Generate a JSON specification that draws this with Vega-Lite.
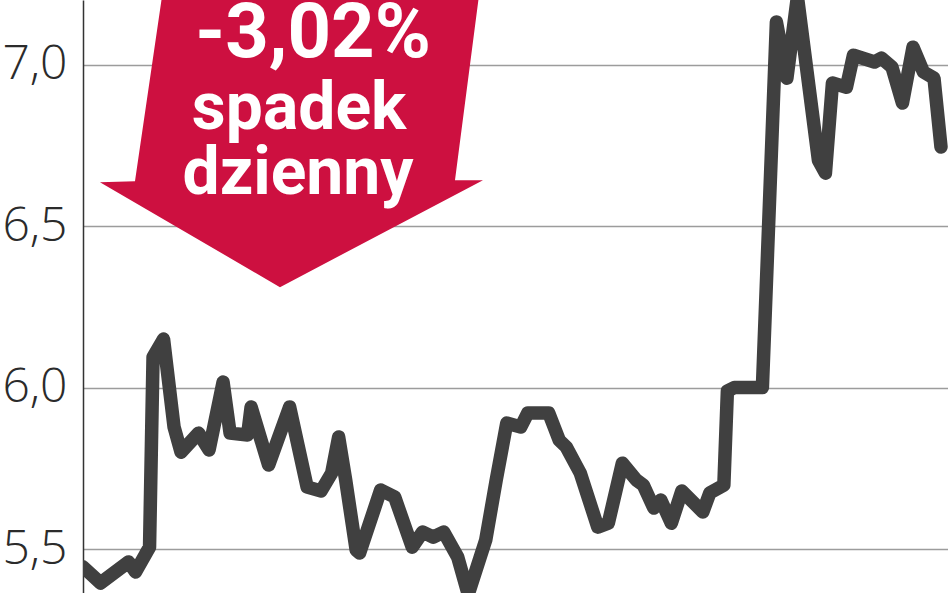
{
  "$schema": "https://vega.github.io/schema/vega-lite/v6.json",
  "width": 865,
  "height": 593,
  "autosize": "none",
  "padding": {"left": 83, "top": 0, "right": 0, "bottom": 0},
  "background": "white",
  "config": {"view": {"stroke": null}},
  "datasets": {
    "price": [
      {"t": 0, "value": 5.445}, {"t": 5, "value": 5.395}, {"t": 13, "value": 5.46}, {"t": 15, "value": 5.429},
      {"t": 19, "value": 5.506}, {"t": 20, "value": 6.094}, {"t": 23, "value": 6.15}, {"t": 26, "value": 5.878},
      {"t": 28, "value": 5.8}, {"t": 33, "value": 5.859}, {"t": 36, "value": 5.807}, {"t": 40, "value": 6.017},
      {"t": 42, "value": 5.859}, {"t": 47, "value": 5.853}, {"t": 48, "value": 5.94}, {"t": 53, "value": 5.76},
      {"t": 59, "value": 5.94}, {"t": 64, "value": 5.692}, {"t": 68, "value": 5.68}, {"t": 71, "value": 5.735},
      {"t": 73, "value": 5.847}, {"t": 75, "value": 5.714}, {"t": 78, "value": 5.497}, {"t": 79, "value": 5.488},
      {"t": 85, "value": 5.683}, {"t": 89, "value": 5.661}, {"t": 94, "value": 5.506}, {"t": 97, "value": 5.553},
      {"t": 100, "value": 5.537}, {"t": 103, "value": 5.553}, {"t": 107, "value": 5.475}, {"t": 110, "value": 5.36},
      {"t": 115, "value": 5.528}, {"t": 118, "value": 5.714}, {"t": 121, "value": 5.89}, {"t": 125, "value": 5.878},
      {"t": 127, "value": 5.921}, {"t": 133, "value": 5.921}, {"t": 136, "value": 5.837}, {"t": 138, "value": 5.816},
      {"t": 142, "value": 5.735}, {"t": 147, "value": 5.568}, {"t": 150, "value": 5.58}, {"t": 154, "value": 5.766},
      {"t": 158, "value": 5.714}, {"t": 160, "value": 5.698}, {"t": 163, "value": 5.627}, {"t": 165, "value": 5.652},
      {"t": 168, "value": 5.58}, {"t": 171, "value": 5.68}, {"t": 177, "value": 5.615}, {"t": 179, "value": 5.674},
      {"t": 183, "value": 5.698}, {"t": 184, "value": 5.989}, {"t": 186, "value": 6.0}, {"t": 194, "value": 6.0},
      {"t": 198, "value": 7.132}, {"t": 201, "value": 6.958}, {"t": 204, "value": 7.21}, {"t": 210, "value": 6.704},
      {"t": 212, "value": 6.664}, {"t": 214, "value": 6.943}, {"t": 218, "value": 6.93}, {"t": 220, "value": 7.029},
      {"t": 226, "value": 7.008}, {"t": 228, "value": 7.02}, {"t": 231, "value": 6.992}, {"t": 234, "value": 6.881},
      {"t": 237, "value": 7.054}, {"t": 240, "value": 6.977}, {"t": 243, "value": 6.958}, {"t": 245, "value": 6.745}
    ],
    "arrow": [{"t": 59.1, "value": 6.766}],
    "change": [{"t": 65.7, "value": 7.023, "label": "-3,02%"}],
    "caption": [
      {"t": 61.7, "value": 6.8, "label": "spadek"},
      {"t": 61.4, "value": 6.598, "label": "dzienny"}
    ]
  },
  "encoding": {
    "x": {"field": "t", "type": "quantitative", "axis": null,
          "scale": {"domain": [0, 247], "nice": false, "zero": false}},
    "y": {"field": "value", "type": "quantitative",
          "scale": {"domain": [5.364, 7.2], "nice": false, "zero": false},
          "axis": {
            "title": null,
            "values": [5.5, 6, 6.5, 7],
            "labelExpr": "replace(format(datum.value, '.1f'), '.', ',')",
            "grid": true, "gridColor": "#9c9c9c", "gridWidth": 1.5,
            "domain": true, "domainColor": "#333333", "domainWidth": 1.5,
            "ticks": false, "labelPadding": 16,
            "labelFont": "Open Sans", "labelFontWeight": 300, "labelFontSize": 48,
            "labelColor": "#2b2b2b", "labelBaseline": "middle"
          }}
  },
  "layer": [
    {
      "data": {"name": "price"},
      "mark": {"type": "line", "color": "#404040", "strokeWidth": 13.5,
               "strokeJoin": "round", "strokeCap": "round", "clip": true}
    },
    {
      "data": {"name": "arrow"},
      "mark": {"type": "point", "filled": true, "color": "#cd1040", "opacity": 1,
               "strokeWidth": 0, "size": 160000,
               "shape": "M-0.628,-0.8L0.955,-0.8L0.825,0.2L0.965,0.2L-0.05,0.735L-0.95,0.21L-0.775,0.205Z"}
    },
    {
      "data": {"name": "change"},
      "mark": {"type": "text", "color": "white", "font": "Roboto", "fontWeight": "bold",
               "fontSize": 76, "align": "center", "baseline": "alphabetic"},
      "encoding": {"text": {"field": "label"}}
    },
    {
      "data": {"name": "caption"},
      "mark": {"type": "text", "color": "white", "font": "Roboto", "fontWeight": "bold",
               "fontSize": 66, "align": "center", "baseline": "alphabetic"},
      "encoding": {"text": {"field": "label"}}
    }
  ]
}
